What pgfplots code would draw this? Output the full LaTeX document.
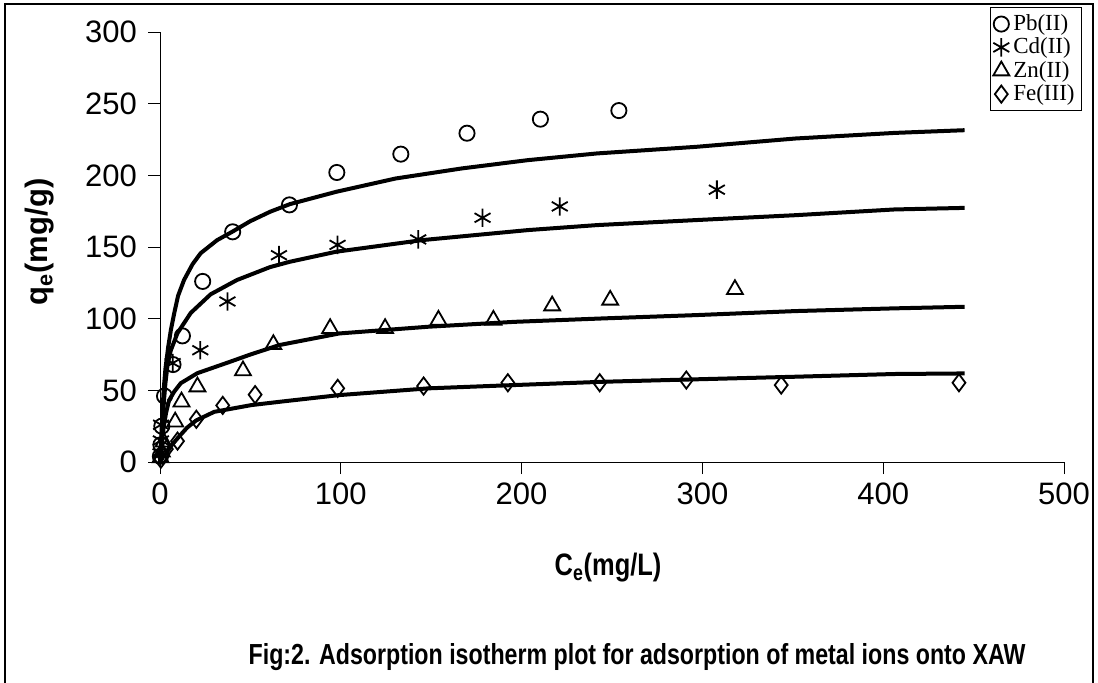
\documentclass[border=0pt]{standalone}
\usepackage{pgfplots}
\pgfplotsset{compat=1.18}
\usepackage{fontspec}
\setmainfont{Liberation Sans}
\newfontfamily\legfont{Liberation Serif}
\begin{document}
\begin{tikzpicture}
\useasboundingbox (0,0) rectangle (549pt,-341pt);
\draw[line width=0.8pt] (2.5pt,-345pt) -- (2.5pt,-2pt) -- (546.5pt,-2pt) -- (546.5pt,-345pt);
\begin{axis}[
  at={(80pt,-231pt)}, anchor=south west,
  scale only axis, width=452pt, height=215pt,
  xmin=0, xmax=500, ymin=0, ymax=300,
  xtick={0,100,...,500}, ytick={0,50,...,300},
  axis x line*=bottom, axis y line*=left,
  axis line style={line width=0.5pt, -},
  tick align=outside, major tick length=6pt,
  tick style={line width=0.5pt, black},
  /pgf/number format/assume math mode=true,
  ticklabel style={font=\fontsize{15.5}{18}\selectfont},
  yticklabel style={xshift=-2pt},
  xticklabel style={yshift=-1pt},
  legend style={at={(1.02,1.058)}, anchor=north east, draw=black, line width=0.5pt,
    font=\legfont\fontsize{11.5}{12}\selectfont, inner sep=1.5pt, row sep=-1.8pt,
    legend cell align=left},
  legend image code/.code={\draw[mark repeat=2,mark phase=2] plot coordinates {(0cm,0cm) (0.2cm,0cm) (0.4cm,0cm)};},
  clip=false,
]
% data points
\addplot[only marks, mark=o, mark size=3.8pt, mark options={line width=0.9pt}] coordinates {
(0.2,4)(0.5,12)(1,25)(2.5,46)(7.2,68)(12.4,88)(23.6,126)(40.2,160.6)(71.6,179.4)(97.8,202)(133.2,214.8)(169.8,229.4)(210.4,239.2)(253.8,245.2)};
\addlegendentry{Pb(II)}
\addplot[only marks, mark=asterisk, mark size=4.6pt, mark options={line width=0.9pt}] coordinates {
(0.3,6)(0.5,15)(0.6,26)(7,69)(22.3,78)(37.3,112)(65.8,144.3)(98.2,151.5)(142.8,155.3)(178.4,170.4)(221.1,178.3)(308,190)};
\addlegendentry{Cd(II)}
\addplot[only marks, mark=triangle, mark size=4.6pt, mark options={line width=0.9pt}] coordinates {
(0.3,3)(1,7)(2,14)(8.4,28)(11.9,42)(20.7,52.5)(45.9,63.7)(62.7,82)(94.1,93.2)(124.5,93.2)(154,99)(184.4,99)(216.9,109)(249,113)(318,120.4)};
\addlegendentry{Zn(II)}
\addplot[only marks, mark=diamond, mark size=4.3pt, mark options={line width=0.9pt}] coordinates {
(0.5,2)(1.5,5)(3.5,9)(9.7,14.6)(20.1,29.8)(34.7,39.5)(52.6,47)(98.3,51.4)(145.8,53)(192.4,55.3)(243.2,55.3)(291.1,57.2)(343.6,53.7)(441.9,55.3)};
\addlegendentry{Fe(III)}
% fitted curves
\addplot[no marks, line width=2pt, forget plot] coordinates {
(0,0)(1,25)(2,50)(3,65)(4.5,80)(6,92)(7.9,104)(10,116)(13.3,127)(18,138)(22.5,145.7)(31.6,154.8)(39.9,160.6)(49.9,168)(60.9,174.6)(71.8,179.9)(97.4,188.5)(130.3,197.8)(166.8,204.8)(203.4,210.6)(241.8,215.3)(296.6,219.9)(351.4,225.7)(406.2,229.6)(445,231.5)};
\addplot[no marks, line width=2pt, forget plot] coordinates {
(0,0)(1,20)(2,40)(3,55)(4.2,68)(6,78)(9.7,90)(17,104)(28,117)(42.6,127)(60.9,136)(71.8,139.7)(97.4,146.7)(144.9,154.8)(203.4,161.8)(241.8,165.3)(296.6,168.8)(351.4,172.2)(406.2,176.2)(445,177.3)};
\addplot[no marks, line width=2pt, forget plot] coordinates {
(0,0)(1,12)(2,24)(3.3,34)(5,43)(7.8,49)(11.5,55)(20.7,62)(38.9,70)(50,75)(66,81.6)(99.2,89.7)(148.6,94.4)(196.1,97.8)(245.4,100.2)(296.6,102.5)(351.4,105.3)(406.2,107.2)(445,108.3)};
\addplot[no marks, line width=2pt, forget plot] coordinates {
(0,0)(1,2)(2,4)(4,7)(6,11)(10,17)(15,24)(20,29)(30,35)(50.5,39.7)(66,42)(99.2,46.7)(148.6,51.4)(196.1,53.7)(245.4,56)(296.6,57.7)(351.4,59.5)(406.2,61.4)(445,61.8)};
\end{axis}
\node[font=\bfseries\fontsize{15.5}{18}\selectfont, rotate=90] at (20pt,-121pt) {q\textsubscript{e}(mg/g)};
\node[font=\bfseries\fontsize{15.5}{18}\selectfont] at (304pt,-284pt) {\scalebox{0.82}[1]{C\textsubscript{e}(mg/L)}};
\node[font=\bfseries\fontsize{14.5}{17}\selectfont] at (318.5pt,-328.5pt) {\scalebox{0.8}[1]{Fig:2. Adsorption isotherm plot for adsorption of metal ions onto XAW}};
\end{tikzpicture}
\end{document}
